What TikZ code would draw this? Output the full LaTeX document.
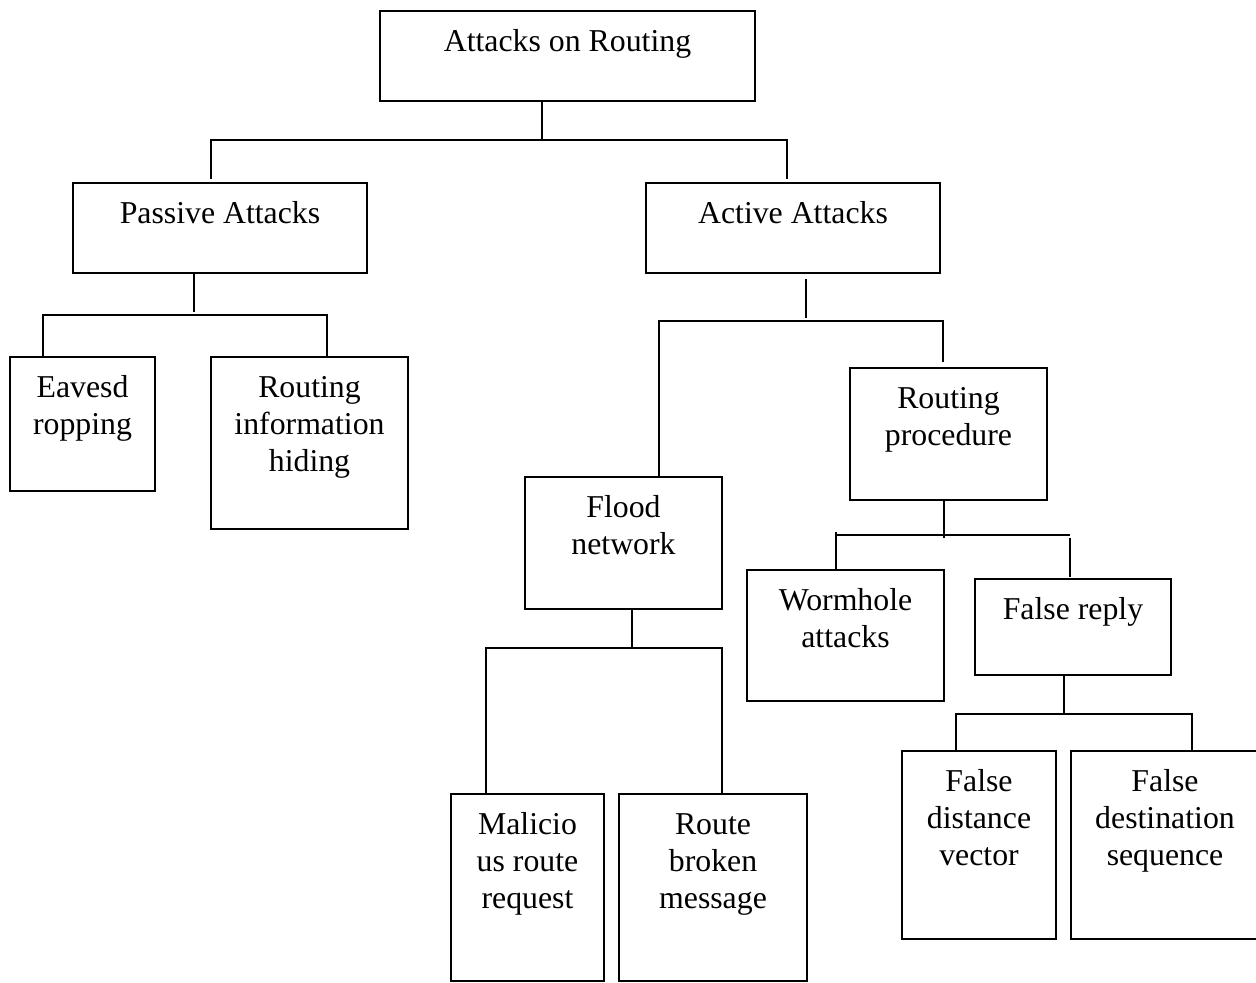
\documentclass[tikz,border=0pt]{standalone}
\usepackage{fontspec}
\setmainfont{Liberation Serif}
\newdimen\pxu
\pxu=0.5pt
% box spanning (x1,y1)-(x2,y2), text hung from the top edge
\newcommand\tbox[6]{%
  \node[box] (#1) at ({(#2+#4)/2},{(#3+#5)/2})
    {\parbox[c][\dimexpr\pxu*(#5-#3)\relax][t]{\dimexpr\pxu*(#4-#2)\relax}%
      {\centering\rule{0pt}{\dimexpr\pxu*40\relax}#6\par}};}
\begin{document}
\begin{tikzpicture}[x=0.5pt,y=-0.5pt,
  box/.style={draw, line width=1pt, inner sep=0pt, outer sep=0pt,
    font=\fontsize{15.9pt}{18.5pt}\selectfont},
  conn/.style={draw, line width=0.6pt}]
\useasboundingbox (0,0) rectangle (1256,982);
\clip (0,0) rectangle (1256,982);

% boxes
\tbox{root}{380}{11}{755}{101}{Attacks on Routing}
\tbox{passive}{73}{183}{367}{273}{Passive Attacks}
\tbox{active}{646}{183}{940}{273}{Active Attacks}
\tbox{eaves}{10}{357}{155}{491}{Eavesd\\ropping}
\tbox{rinfo}{211}{357}{408}{529}{Routing\\information\\hiding}
\tbox{flood}{525}{477}{722}{609}{Flood\\network}
\tbox{rproc}{850}{368}{1047}{500}{Routing\\procedure}
\tbox{worm}{747}{570}{944}{701}{Wormhole\\attacks}
\tbox{freply}{975}{579}{1171}{675}{False reply}
\tbox{malic}{451}{794}{604}{981}{Malicio\\us route\\request}
\tbox{rbroken}{619}{794}{807}{981}{Route\\broken\\message}
\tbox{fdist}{902}{751}{1056}{939}{False\\distance\\vector}
\tbox{fdest}{1071}{751}{1259}{939}{False\\destination\\sequence}

% root branches
\coordinate (r-j) at (542,140);
\coordinate (r-l) at (211,140);
\coordinate (r-r) at (787,140);
\draw[conn] (root.south -| r-j) -- (r-j);
\draw[conn] ([yshift=2pt]passive.north -| r-l) -- (r-l) -- (r-r) -- ([yshift=2pt]active.north -| r-r);

% passive branches
\coordinate (p-s) at (194,312);
\coordinate (p-l) at (43,315);
\coordinate (p-r) at (327,315);
\draw[conn] (passive.south -| p-s) -- (p-s);
\draw[conn] (eaves.north -| p-l) -- (p-l) -- (p-r) -- (rinfo.north -| p-r);

% active branches
\coordinate (a-s) at (806,318);
\coordinate (a-l) at (659,321);
\coordinate (a-r) at (943,321);
\draw[conn] ([yshift=-3pt]active.south -| a-s) -- (a-s);
\draw[conn] (flood.north -| a-l) -- (a-l) -- (a-r) -- ([yshift=3pt]rproc.north -| a-r);

% routing procedure branches
\coordinate (rp-j) at (944,538);
\coordinate (rp-l) at (836,535);
\coordinate (rp-r) at (1070,535);
\draw[conn] (rproc.south -| rp-j) -- (rp-j);
\draw[conn] (rp-l) -- (rp-r);
\draw[conn] ([yshift=1.5pt]rp-l) -- (worm.north -| rp-l);
\draw[conn] ([yshift=-1.5pt]rp-r) -- ([yshift=1pt]freply.north -| rp-r);

% flood network branches
\coordinate (f-j) at (632,648);
\coordinate (f-l) at (486,648);
\coordinate (f-r) at (722,648);
\draw[conn] (flood.south -| f-j) -- (f-j);
\draw[conn] (malic.north -| f-l) -- (f-l) -- (f-r) -- (rbroken.north -| f-r);

% false reply branches
\coordinate (fr-j) at (1064,714);
\coordinate (fr-l) at (956,714);
\coordinate (fr-r) at (1192,714);
\draw[conn] (freply.south -| fr-j) -- (fr-j);
\draw[conn] (fdist.north -| fr-l) -- (fr-l) -- (fr-r) -- (fdest.north -| fr-r);
\end{tikzpicture}
\end{document}
